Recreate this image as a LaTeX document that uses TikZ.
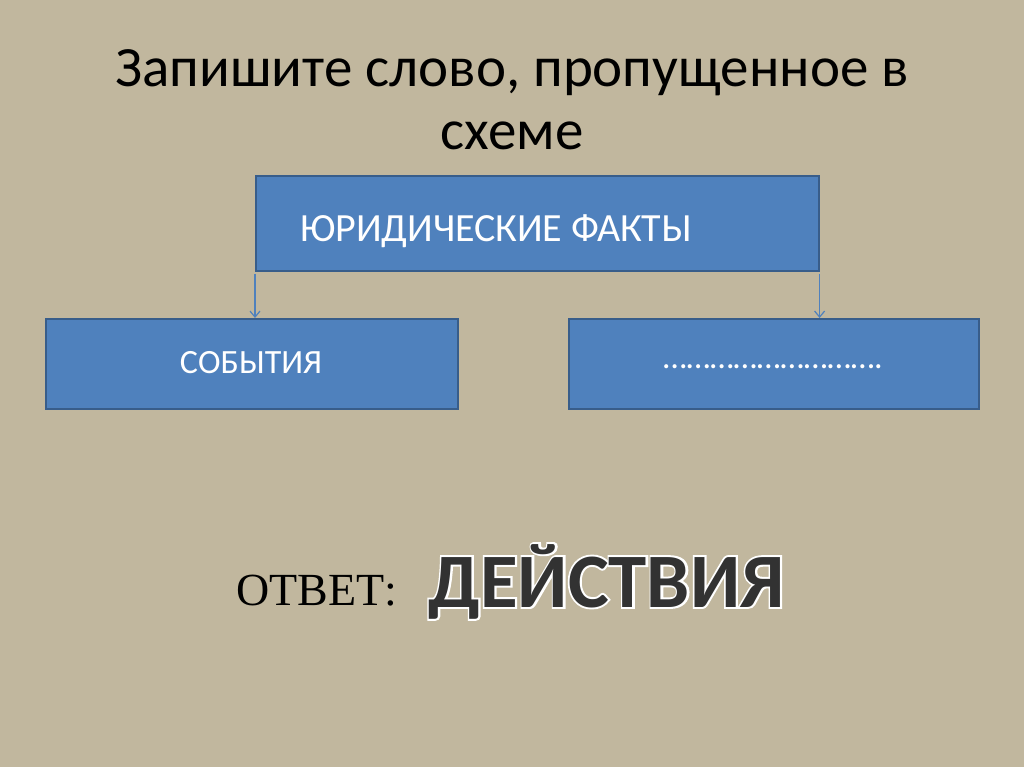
\documentclass[tikz,border=0pt]{standalone}
\usepackage{fontspec}
\setmainfont{Carlito}
\newfontfamily\serifru{Liberation Serif}
\newfontfamily\boldru{Carlito}[UprightFont=* Bold]
\newfontfamily\boldrim{Carlito}[UprightFont=* Bold, FakeBold=5]
\usetikzlibrary{arrows.meta}
\definecolor{bgc}{RGB}{193,183,158}
\definecolor{boxfill}{RGB}{79,129,189}
\definecolor{boxline}{RGB}{56,93,138}
\definecolor{answord}{RGB}{50,50,50}
\tikzset{
  box/.style={draw=boxline, line width=1.6pt, fill=boxfill, text=white, inner sep=0pt},
  conn/.style={draw=boxfill, line width=1.2pt, -{Straight Barb[length=6pt,width=10pt]}},
}
\begin{document}
\begin{tikzpicture}[x=1pt,y=-1pt]
\fill[bgc] (0,0) rectangle (1024,767);
\useasboundingbox (0,0) rectangle (1024,767);
\node[align=center, font=\fontsize{57}{63}\selectfont, text=black] (title) at (512,100) {Запишите слово, пропущенное в\\схеме};
\node[box, minimum width=563pt, minimum height=95pt, anchor=north west] (top) at (255,175) {};
\node[text=white, font=\fontsize{40}{46}\selectfont] (toptext) at (496,231) {ЮРИДИЧЕСКИЕ ФАКТЫ};
\node[box, minimum width=412pt, minimum height=90pt, anchor=north west] (left) at (45,318) {};
\node[text=white, font=\fontsize{34}{40}\selectfont] (lefttext) at (251,363) {СОБЫТИЯ};
\node[box, minimum width=410pt, minimum height=90pt, anchor=north west] (right) at (568,318) {};
\node[text=white, font=\fontsize{34}{40}\selectfont] (righttext) at (773,367) {……………………….};
\draw[conn] ([yshift=-2pt]top.south west) -- (top.south west |- left.north);
\draw[conn] ([yshift=-2pt]top.south east) -- (top.south east |- right.north);
\node[anchor=base west, font=\serifru\fontsize{46}{54}\selectfont] (answer) at (233,605) {ОТВЕТ:};
\node[anchor=base west, text=white, font=\boldrim\fontsize{77}{88}\selectfont] (wordrim) at (425,607) {ДЕЙСТВИЯ};
\node[anchor=base west, text=answord, font=\boldru\fontsize{77}{88}\selectfont] (word) at (425,607) {ДЕЙСТВИЯ};
\end{tikzpicture}
\end{document}
